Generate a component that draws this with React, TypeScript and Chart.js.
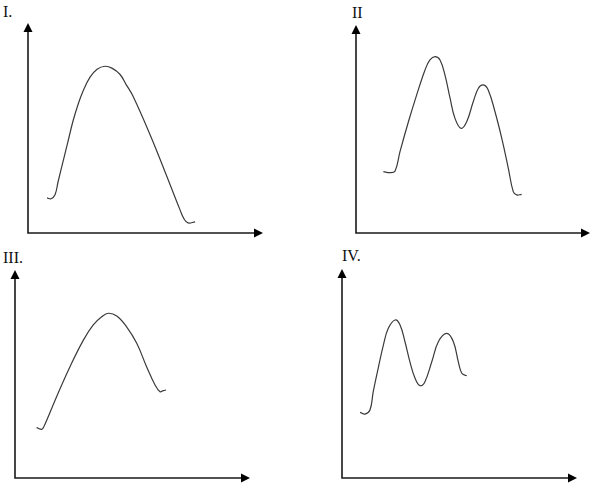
import { useEffect, useRef } from 'react';
import { Chart, registerables } from 'chart.js';

Chart.register(...registerables);

// Each panel: curve points in axis units (0..100 along each axis, origin at the corner)
const PANEL_I_X = [8.1, 9.8, 11.5, 12.8, 14.9, 17.0, 19.1, 21.3, 23.4, 26.4, 29.4, 32.8, 35.7, 39.1, 41.7, 44.7, 51.9, 58.3, 64.7, 66.4, 68.1, 71.1];
const PANEL_I_Y = [16.7, 16.3, 18.2, 24.4, 34.0, 43.5, 53.1, 61.2, 67.5, 74.2, 78.0, 79.4, 78.5, 75.6, 70.8, 65.1, 46.9, 29.2, 11.0, 6.7, 4.8, 5.3];

const PANEL_II_X = [11.7, 14.5, 16.7, 18.8, 22.4, 25.9, 29.5, 31.6, 33.8, 35.9, 38.0, 40.2, 42.3, 44.9, 47.3, 50.1, 52.3, 54.4, 56.5, 59.4, 62.3, 65.1, 67.2, 68.7, 70.8];
const PANEL_II_Y = [29.5, 29.0, 29.8, 39.1, 53.5, 66.3, 78.4, 83.2, 84.8, 83.2, 76.0, 64.8, 55.1, 50.3, 53.5, 63.1, 69.6, 71.2, 68.8, 58.3, 45.5, 31.1, 19.9, 18.3, 18.6];

const PANEL_III_X = [9.2, 11.4, 12.3, 17.7, 23.4, 29.1, 33.3, 36.9, 39.7, 43.3, 47.5, 51.8, 56.0, 59.6, 61.7, 63.1, 64.3];
const PANEL_III_Y = [24.2, 23.4, 24.7, 39.1, 53.5, 66.3, 73.6, 77.5, 79.2, 77.9, 72.7, 64.8, 53.5, 44.7, 41.5, 42.0, 42.3];

const PANEL_IV_X = [7.7, 9.8, 11.9, 13.3, 15.4, 17.6, 19.7, 22.6, 24.7, 26.8, 28.9, 31.1, 33.2, 35.3, 38.2, 41.0, 44.6, 47.4, 49.5, 51.0, 53.1];
const PANEL_IV_Y = [31.4, 30.6, 32.5, 41.3, 52.5, 63.6, 71.6, 75.6, 73.2, 65.2, 55.6, 47.7, 44.2, 46.1, 55.6, 65.2, 69.2, 65.2, 55.6, 50.1, 48.9];

const PANEL_LABELS = ['I.', 'II', 'III.', 'IV.'];

const PAD = { left: 6, right: 2, top: 2, bottom: 6 };

// draws the two axes with arrowheads from the chart's own scales
const arrowAxes = {
    id: 'arrowAxes',
    afterDatasetsDraw(chart: Chart) {
        const { ctx } = chart;
        const xs = chart.scales.x;
        const ys = chart.scales.y;
        const x0 = xs.getPixelForValue(0);
        const x1 = xs.getPixelForValue(100);
        const y0 = ys.getPixelForValue(0);
        const y1 = ys.getPixelForValue(100);
        ctx.save();
        ctx.strokeStyle = '#1a1a1a';
        ctx.fillStyle = '#000';
        ctx.lineWidth = 1.6;
        ctx.beginPath();
        ctx.moveTo(x0, y1 + 6);
        ctx.lineTo(x0, y0);
        ctx.lineTo(x1 - 6, y0);
        ctx.stroke();
        // y arrow
        ctx.beginPath();
        ctx.moveTo(x0, y1);
        ctx.lineTo(x0 - 4.5, y1 + 9);
        ctx.lineTo(x0 + 4.5, y1 + 9);
        ctx.closePath();
        ctx.fill();
        // x arrow
        ctx.beginPath();
        ctx.moveTo(x1, y0);
        ctx.lineTo(x1 - 9, y0 - 4.5);
        ctx.lineTo(x1 - 9, y0 + 4.5);
        ctx.closePath();
        ctx.fill();
        ctx.restore();
    }
};

function Panel({ xs, ys, left, top, width, height }: { xs: number[]; ys: number[]; left: number; top: number; width: number; height: number }) {
    const canvasRef = useRef<HTMLCanvasElement | null>(null);

    useEffect(() => {
        if (!canvasRef.current) return;
        const chart = new Chart(canvasRef.current, {
            type: 'line',
            data: {
                datasets: [
                    {
                        data: xs.map((x, i) => ({ x, y: ys[i] })),
                        borderColor: '#3a3a3a',
                        borderWidth: 1.2,
                        pointRadius: 0,
                        tension: 0.4,
                        fill: false
                    }
                ]
            },
            options: {
                animation: false,
                responsive: false,
                events: [],
                layout: { padding: PAD },
                plugins: { legend: { display: false }, tooltip: { enabled: false } },
                scales: {
                    x: { type: 'linear', min: 0, max: 100, display: false },
                    y: { type: 'linear', min: 0, max: 100, display: false }
                }
            },
            plugins: [arrowAxes]
        });
        return () => chart.destroy();
    }, [xs, ys]);

    return (
        <canvas
            ref={canvasRef}
            width={width}
            height={height}
            style={{ position: 'absolute', left, top, width, height }}
        />
    );
}

// canvas box from axis origin (ox, oy) and arrow tips (tx, ty)
function box(ox: number, oy: number, tx: number, ty: number) {
    return {
        left: ox - PAD.left,
        top: ty - PAD.top,
        width: tx - ox + PAD.left + PAD.right,
        height: oy - ty + PAD.top + PAD.bottom
    };
}

const labelStyle = {
    position: 'absolute' as const,
    fontFamily: '"Liberation Serif", "Times New Roman", serif',
    fontSize: 16,
    lineHeight: '16px',
    color: '#111'
};

export default function App() {
    return (
        <div style={{ position: 'absolute', left: 0, top: 0, width: 600, height: 493, background: '#fff' }}>
            <Panel xs={PANEL_I_X} ys={PANEL_I_Y} {...box(28, 233, 263, 23)} />
            <Panel xs={PANEL_II_X} ys={PANEL_II_Y} {...box(356, 233, 590, 25)} />
            <Panel xs={PANEL_III_X} ys={PANEL_III_Y} {...box(15, 478, 250, 270)} />
            <Panel xs={PANEL_IV_X} ys={PANEL_IV_Y} {...box(342, 478, 577, 269)} />
            <div style={{ ...labelStyle, left: 3, top: 4 }}>{PANEL_LABELS[0]}</div>
            <div style={{ ...labelStyle, left: 352, top: 5 }}>{PANEL_LABELS[1]}</div>
            <div style={{ ...labelStyle, left: 3, top: 250 }}>{PANEL_LABELS[2]}</div>
            <div style={{ ...labelStyle, left: 342, top: 248 }}>{PANEL_LABELS[3]}</div>
        </div>
    );
}
